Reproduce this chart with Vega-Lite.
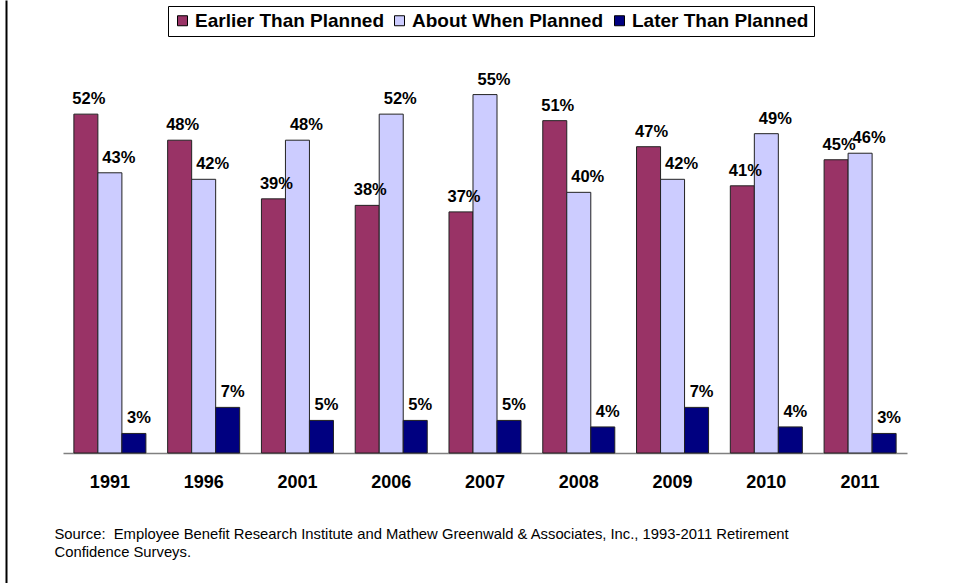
{
  "$schema": "https://vega.github.io/schema/vega-lite/v6.json",
  "width": 844,
  "height": 391,
  "autosize": {"type": "none"},
  "padding": {"left": 63, "top": 62, "right": 50, "bottom": 130},
  "background": "white",
  "config": {"view": {"stroke": null}, "font": "Liberation Sans"},
  "datasets": {
    "survey": [
      {"year": "1991", "series": "Earlier Than Planned", "value": 0.52},
      {"year": "1991", "series": "About When Planned", "value": 0.43},
      {"year": "1991", "series": "Later Than Planned", "value": 0.03},
      {"year": "1996", "series": "Earlier Than Planned", "value": 0.48},
      {"year": "1996", "series": "About When Planned", "value": 0.42},
      {"year": "1996", "series": "Later Than Planned", "value": 0.07},
      {"year": "2001", "series": "Earlier Than Planned", "value": 0.39},
      {"year": "2001", "series": "About When Planned", "value": 0.48},
      {"year": "2001", "series": "Later Than Planned", "value": 0.05},
      {"year": "2006", "series": "Earlier Than Planned", "value": 0.38},
      {"year": "2006", "series": "About When Planned", "value": 0.52},
      {"year": "2006", "series": "Later Than Planned", "value": 0.05},
      {"year": "2007", "series": "Earlier Than Planned", "value": 0.37},
      {"year": "2007", "series": "About When Planned", "value": 0.55},
      {"year": "2007", "series": "Later Than Planned", "value": 0.05},
      {"year": "2008", "series": "Earlier Than Planned", "value": 0.51},
      {"year": "2008", "series": "About When Planned", "value": 0.40},
      {"year": "2008", "series": "Later Than Planned", "value": 0.04},
      {"year": "2009", "series": "Earlier Than Planned", "value": 0.47},
      {"year": "2009", "series": "About When Planned", "value": 0.42},
      {"year": "2009", "series": "Later Than Planned", "value": 0.07},
      {"year": "2010", "series": "Earlier Than Planned", "value": 0.41},
      {"year": "2010", "series": "About When Planned", "value": 0.49},
      {"year": "2010", "series": "Later Than Planned", "value": 0.04},
      {"year": "2011", "series": "Earlier Than Planned", "value": 0.45},
      {"year": "2011", "series": "About When Planned", "value": 0.46},
      {"year": "2011", "series": "Later Than Planned", "value": 0.03}
    ]
  },
  "resolve": {"scale": {"y": "independent"}, "axis": {"y": "independent"}},
  "layer": [
    {
      "data": {"name": "survey"},
      "encoding": {
        "x": {
          "field": "year",
          "type": "nominal",
          "sort": null,
          "scale": {"paddingInner": 0.232, "paddingOuter": 0.116},
          "axis": {
            "title": ["Source:\u00a0 Employee Benefit Research Institute and Mathew Greenwald & Associates, Inc., 1993-2011 Retirement", "Confidence Surveys."],
            "titleAnchor": "start",
            "titleAlign": "left",
            "titleBaseline": "top",
            "titleX": -9,
            "titleY": 73,
            "titleFont": "Liberation Sans",
            "titleFontSize": 14.8,
            "titleFontWeight": "normal",
            "titleColor": "#000",
            "titleLineHeight": 18,
            "titleLimit": 950,
            "domainColor": "#808080",
            "domainWidth": 1.5,
            "ticks": false,
            "tickSize": 0,
            "labelPadding": 20,
            "labelFontSize": 18,
            "labelFontWeight": "bold",
            "labelColor": "#000",
            "labelAngle": 0,
            "labelBaseline": "top",
            "labelFont": "Liberation Sans"
          }
        },
        "xOffset": {
          "field": "series",
          "type": "nominal",
          "sort": ["Earlier Than Planned", "About When Planned", "Later Than Planned"],
          "scale": {"paddingInner": 0, "paddingOuter": 0}
        },
        "y": {
          "field": "value",
          "type": "quantitative",
          "scale": {"domain": [0, 0.6], "nice": false, "zero": true},
          "axis": null
        }
      },
      "layer": [
        {
          "mark": {"type": "bar", "stroke": "#222", "strokeWidth": 1},
          "encoding": {
            "color": {
              "field": "series",
              "type": "nominal",
              "sort": ["Earlier Than Planned", "About When Planned", "Later Than Planned"],
              "scale": {
                "domain": ["Earlier Than Planned", "About When Planned", "Later Than Planned"],
                "range": ["#993366", "#CCCCFF", "#000080"]
              },
              "legend": {
                "orient": "none",
                "legendX": 105,
                "legendY": -56,
                "direction": "horizontal",
                "columns": 3,
                "title": null,
                "symbolType": "square",
                "symbolSize": 100,
                "symbolStrokeColor": "#000",
                "symbolStrokeWidth": 1,
                "symbolOpacity": 1,
                "labelFontSize": 19,
                "labelFontWeight": "bold",
                "labelFont": "Liberation Sans",
                "labelColor": "#000",
                "labelLimit": 300,
                "labelOffset": 3,
                "columnPadding": 6,
                "padding": 5,
                "strokeColor": "#000",
                "fillColor": "#fff"
              }
            }
          }
        },
        {
          "transform": [{"filter": "datum.series === 'Earlier Than Planned'"}],
          "mark": {"type": "text", "dy": -10, "dx": 3, "baseline": "alphabetic", "fontSize": 16.5, "fontWeight": "bold", "color": "#000", "font": "Liberation Sans"},
          "encoding": {"text": {"field": "value", "type": "quantitative", "format": ".0%"}}
        },
        {
          "transform": [{"filter": "datum.series === 'About When Planned'"}],
          "mark": {"type": "text", "dy": -10, "dx": 9, "baseline": "alphabetic", "fontSize": 16.5, "fontWeight": "bold", "color": "#000", "font": "Liberation Sans"},
          "encoding": {"text": {"field": "value", "type": "quantitative", "format": ".0%"}}
        },
        {
          "transform": [{"filter": "datum.series === 'Later Than Planned'"}],
          "mark": {"type": "text", "dy": -10, "dx": 5, "baseline": "alphabetic", "fontSize": 16.5, "fontWeight": "bold", "color": "#000", "font": "Liberation Sans"},
          "encoding": {"text": {"field": "value", "type": "quantitative", "format": ".0%"}}
        }
      ]
    },
    {
      "data": {"values": []},
      "mark": {"type": "point", "opacity": 0},
      "encoding": {
        "y": {
          "field": "v",
          "type": "quantitative",
          "scale": {"domain": [0, 1], "range": [521, -62], "nice": false, "zero": false},
          "axis": {
            "orient": "left",
            "offset": 57,
            "domain": true,
            "domainColor": "#000",
            "domainWidth": 2,
            "labels": false,
            "ticks": false,
            "grid": false,
            "title": null
          }
        }
      }
    }
  ]
}
